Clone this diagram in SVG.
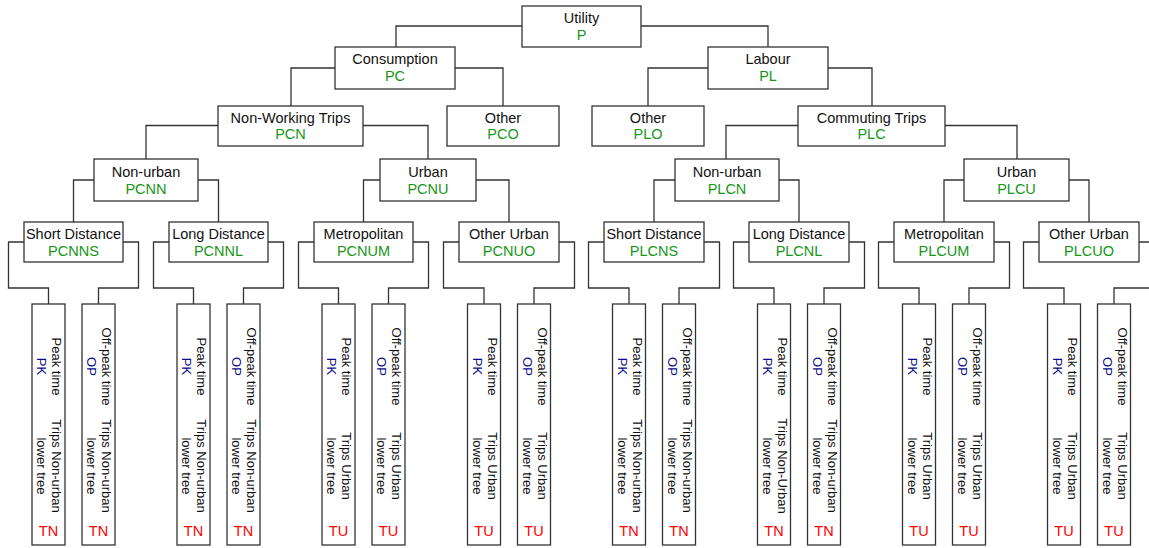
<svg xmlns="http://www.w3.org/2000/svg" width="1149" height="548" viewBox="0 0 1149 548">
<style>
.bx{fill:#fff;stroke:#333;stroke-width:1.3}
.ln{fill:none;stroke:#333;stroke-width:1.3}
text{font-family:"Liberation Sans",Arial,sans-serif;fill:#111}
.t{font-size:14.5px;text-anchor:middle}
.g{fill:#169616}
.l{font-size:13px;text-anchor:middle}
.b{fill:#0a0a8c}
.r{font-size:14.5px;text-anchor:middle;fill:#ff0000}
</style>
<rect width="1149" height="548" fill="#fff"/>
<g id="connectors">
<path class="ln" d="M522,26H396V47M641,26H768V47"/>
<path class="ln" d="M335,68H291V106M455,68H503V106"/>
<path class="ln" d="M708,68H648V106M828,68H872V106"/>
<path class="ln" d="M218,125.5H146V159M363,125.5H428V159"/>
<path class="ln" d="M798,125.5H726V159M945,125.5H1017V159"/>
<path class="ln" d="M94,180H73.5V222M198,180H218.5V222"/>
<path class="ln" d="M380,180H363.5V222M476,180H509V222"/>
<path class="ln" d="M675,180H654V222M779,180H799V222"/>
<path class="ln" d="M964,180H944V222M1069,180H1089V222"/>
<path class="ln" d="M24,242H8.5V288H48.5V304M123,242H138.5V288H98.5V304"/>
<path class="ln" d="M169,242H153.5V288H193.5V304M268,242H283.5V288H243.5V304"/>
<path class="ln" d="M314,242H298.5V288H338.5V304M413,242H428.5V288H388.5V304"/>
<path class="ln" d="M459,242H443.5V288H484V304M559,242H574.5V288H534V304"/>
<path class="ln" d="M604,242H588.5V288H629V304M704,242H719.5V288H679V304"/>
<path class="ln" d="M749,242H733.5V288H774V304M849,242H864.5V288H824V304"/>
<path class="ln" d="M894,242H878.5V288H919V304M994,242H1009.5V288H969V304"/>
<path class="ln" d="M1039,242H1023.5V288H1064V304M1139,242H1154.5V288H1114V304"/>
</g>
<g id="P"><rect class="bx" x="522" y="6" width="119" height="41"/><text class="t" x="581.5" y="23">Utility</text><text class="t g" x="581.5" y="40">P</text></g>
<g id="PC"><rect class="bx" x="335" y="47" width="120" height="42"/><text class="t" x="395" y="64">Consumption</text><text class="t g" x="395" y="81">PC</text></g>
<g id="PL"><rect class="bx" x="708" y="47" width="120" height="42"/><text class="t" x="768" y="64">Labour</text><text class="t g" x="768" y="81">PL</text></g>
<g id="PCN"><rect class="bx" x="218" y="106" width="145" height="40"/><text class="t" x="290.5" y="122.5">Non-Working Trips</text><text class="t g" x="290.5" y="139">PCN</text></g>
<g id="PCO"><rect class="bx" x="447" y="106" width="112" height="40"/><text class="t" x="503" y="122.5">Other</text><text class="t g" x="503" y="139">PCO</text></g>
<g id="PLO"><rect class="bx" x="592" y="106" width="112" height="40"/><text class="t" x="648" y="122.5">Other</text><text class="t g" x="648" y="139">PLO</text></g>
<g id="PLC"><rect class="bx" x="798" y="106" width="147" height="40"/><text class="t" x="871.5" y="122.5">Commuting Trips</text><text class="t g" x="871.5" y="139">PLC</text></g>
<g id="PCNN"><rect class="bx" x="94" y="159" width="104" height="42"/><text class="t" x="146" y="176.5">Non-urban</text><text class="t g" x="146" y="193.5">PCNN</text></g>
<g id="PCNU"><rect class="bx" x="380" y="159" width="96" height="42"/><text class="t" x="428" y="176.5">Urban</text><text class="t g" x="428" y="193.5">PCNU</text></g>
<g id="PLCN"><rect class="bx" x="675" y="159" width="104" height="42"/><text class="t" x="727" y="176.5">Non-urban</text><text class="t g" x="727" y="193.5">PLCN</text></g>
<g id="PLCU"><rect class="bx" x="964" y="159" width="105" height="42"/><text class="t" x="1016.5" y="176.5">Urban</text><text class="t g" x="1016.5" y="193.5">PLCU</text></g>
<g id="PCNNS"><rect class="bx" x="24" y="222" width="99" height="40"/><text class="t" x="73.5" y="238.5">Short Distance</text><text class="t g" x="73.5" y="256">PCNNS</text></g>
<g id="PCNNL"><rect class="bx" x="169" y="222" width="99" height="40"/><text class="t" x="218.5" y="238.5">Long Distance</text><text class="t g" x="218.5" y="256">PCNNL</text></g>
<g id="PCNUM"><rect class="bx" x="314" y="222" width="99" height="40"/><text class="t" x="363.5" y="238.5">Metropolitan</text><text class="t g" x="363.5" y="256">PCNUM</text></g>
<g id="PCNUO"><rect class="bx" x="459" y="222" width="100" height="40"/><text class="t" x="509" y="238.5">Other Urban</text><text class="t g" x="509" y="256">PCNUO</text></g>
<g id="PLCNS"><rect class="bx" x="604" y="222" width="100" height="40"/><text class="t" x="654" y="238.5">Short Distance</text><text class="t g" x="654" y="256">PLCNS</text></g>
<g id="PLCNL"><rect class="bx" x="749" y="222" width="100" height="40"/><text class="t" x="799" y="238.5">Long Distance</text><text class="t g" x="799" y="256">PLCNL</text></g>
<g id="PLCUM"><rect class="bx" x="894" y="222" width="100" height="40"/><text class="t" x="944" y="238.5">Metropolitan</text><text class="t g" x="944" y="256">PLCUM</text></g>
<g id="PLCUO"><rect class="bx" x="1039" y="222" width="100" height="40"/><text class="t" x="1089" y="238.5">Other Urban</text><text class="t g" x="1089" y="256">PLCUO</text></g>

<g id="PCNNS-PK"><rect class="bx" x="32" y="304" width="33" height="241"/><text class="l" transform="translate(48.5,366.5) rotate(90)"><tspan x="0" y="-3.8">Peak time</tspan><tspan class="b" x="0" y="11.5">PK</tspan></text><text class="l" transform="translate(48.5,466) rotate(90)"><tspan x="0" y="-3.8">Trips Non-urban</tspan><tspan x="0" y="11.5">lower tree</tspan></text><text class="r" x="48.5" y="535.5">TN</text></g>
<g id="PCNNS-OP"><rect class="bx" x="82" y="304" width="33" height="241"/><text class="l" transform="translate(98.5,366.5) rotate(90)"><tspan x="0" y="-3.8">Off-peak time</tspan><tspan class="b" x="0" y="11.5">OP</tspan></text><text class="l" transform="translate(98.5,466) rotate(90)"><tspan x="0" y="-3.8">Trips Non-urban</tspan><tspan x="0" y="11.5">lower tree</tspan></text><text class="r" x="98.5" y="535.5">TN</text></g>
<g id="PCNNL-PK"><rect class="bx" x="177" y="304" width="33" height="241"/><text class="l" transform="translate(193.5,366.5) rotate(90)"><tspan x="0" y="-3.8">Peak time</tspan><tspan class="b" x="0" y="11.5">PK</tspan></text><text class="l" transform="translate(193.5,466) rotate(90)"><tspan x="0" y="-3.8">Trips Non-urban</tspan><tspan x="0" y="11.5">lower tree</tspan></text><text class="r" x="193.5" y="535.5">TN</text></g>
<g id="PCNNL-OP"><rect class="bx" x="227" y="304" width="33" height="241"/><text class="l" transform="translate(243.5,366.5) rotate(90)"><tspan x="0" y="-3.8">Off-peak time</tspan><tspan class="b" x="0" y="11.5">OP</tspan></text><text class="l" transform="translate(243.5,466) rotate(90)"><tspan x="0" y="-3.8">Trips Non-urban</tspan><tspan x="0" y="11.5">lower tree</tspan></text><text class="r" x="243.5" y="535.5">TN</text></g>
<g id="PCNUM-PK"><rect class="bx" x="322" y="304" width="33" height="241"/><text class="l" transform="translate(338.5,366.5) rotate(90)"><tspan x="0" y="-3.8">Peak time</tspan><tspan class="b" x="0" y="11.5">PK</tspan></text><text class="l" transform="translate(338.5,466) rotate(90)"><tspan x="0" y="-3.8">Trips Urban</tspan><tspan x="0" y="11.5">lower tree</tspan></text><text class="r" x="338.5" y="535.5">TU</text></g>
<g id="PCNUM-OP"><rect class="bx" x="372" y="304" width="33" height="241"/><text class="l" transform="translate(388.5,366.5) rotate(90)"><tspan x="0" y="-3.8">Off-peak time</tspan><tspan class="b" x="0" y="11.5">OP</tspan></text><text class="l" transform="translate(388.5,466) rotate(90)"><tspan x="0" y="-3.8">Trips Urban</tspan><tspan x="0" y="11.5">lower tree</tspan></text><text class="r" x="388.5" y="535.5">TU</text></g>
<g id="PCNUO-PK"><rect class="bx" x="467.5" y="304" width="33" height="241"/><text class="l" transform="translate(484,366.5) rotate(90)"><tspan x="0" y="-3.8">Peak time</tspan><tspan class="b" x="0" y="11.5">PK</tspan></text><text class="l" transform="translate(484,466) rotate(90)"><tspan x="0" y="-3.8">Trips Urban</tspan><tspan x="0" y="11.5">lower tree</tspan></text><text class="r" x="484" y="535.5">TU</text></g>
<g id="PCNUO-OP"><rect class="bx" x="517.5" y="304" width="33" height="241"/><text class="l" transform="translate(534,366.5) rotate(90)"><tspan x="0" y="-3.8">Off-peak time</tspan><tspan class="b" x="0" y="11.5">OP</tspan></text><text class="l" transform="translate(534,466) rotate(90)"><tspan x="0" y="-3.8">Trips Urban</tspan><tspan x="0" y="11.5">lower tree</tspan></text><text class="r" x="534" y="535.5">TU</text></g>
<g id="PLCNS-PK"><rect class="bx" x="612.5" y="304" width="33" height="241"/><text class="l" transform="translate(629,366.5) rotate(90)"><tspan x="0" y="-3.8">Peak time</tspan><tspan class="b" x="0" y="11.5">PK</tspan></text><text class="l" transform="translate(629,466) rotate(90)"><tspan x="0" y="-3.8">Trips Non-urban</tspan><tspan x="0" y="11.5">lower tree</tspan></text><text class="r" x="629" y="535.5">TN</text></g>
<g id="PLCNS-OP"><rect class="bx" x="662.5" y="304" width="33" height="241"/><text class="l" transform="translate(679,366.5) rotate(90)"><tspan x="0" y="-3.8">Off-peak time</tspan><tspan class="b" x="0" y="11.5">OP</tspan></text><text class="l" transform="translate(679,466) rotate(90)"><tspan x="0" y="-3.8">Trips Non-urban</tspan><tspan x="0" y="11.5">lower tree</tspan></text><text class="r" x="679" y="535.5">TN</text></g>
<g id="PLCNL-PK"><rect class="bx" x="757.5" y="304" width="33" height="241"/><text class="l" transform="translate(774,366.5) rotate(90)"><tspan x="0" y="-3.8">Peak time</tspan><tspan class="b" x="0" y="11.5">PK</tspan></text><text class="l" transform="translate(774,466) rotate(90)"><tspan x="0" y="-3.8">Trips Non-Urban</tspan><tspan x="0" y="11.5">lower tree</tspan></text><text class="r" x="774" y="535.5">TN</text></g>
<g id="PLCNL-OP"><rect class="bx" x="807.5" y="304" width="33" height="241"/><text class="l" transform="translate(824,366.5) rotate(90)"><tspan x="0" y="-3.8">Off-peak time</tspan><tspan class="b" x="0" y="11.5">OP</tspan></text><text class="l" transform="translate(824,466) rotate(90)"><tspan x="0" y="-3.8">Trips Non-urban</tspan><tspan x="0" y="11.5">lower tree</tspan></text><text class="r" x="824" y="535.5">TN</text></g>
<g id="PLCUM-PK"><rect class="bx" x="902.5" y="304" width="33" height="241"/><text class="l" transform="translate(919,366.5) rotate(90)"><tspan x="0" y="-3.8">Peak time</tspan><tspan class="b" x="0" y="11.5">PK</tspan></text><text class="l" transform="translate(919,466) rotate(90)"><tspan x="0" y="-3.8">Trips Urban</tspan><tspan x="0" y="11.5">lower tree</tspan></text><text class="r" x="919" y="535.5">TU</text></g>
<g id="PLCUM-OP"><rect class="bx" x="952.5" y="304" width="33" height="241"/><text class="l" transform="translate(969,366.5) rotate(90)"><tspan x="0" y="-3.8">Off-peak time</tspan><tspan class="b" x="0" y="11.5">OP</tspan></text><text class="l" transform="translate(969,466) rotate(90)"><tspan x="0" y="-3.8">Trips Urban</tspan><tspan x="0" y="11.5">lower tree</tspan></text><text class="r" x="969" y="535.5">TU</text></g>
<g id="PLCUO-PK"><rect class="bx" x="1047.5" y="304" width="33" height="241"/><text class="l" transform="translate(1064,366.5) rotate(90)"><tspan x="0" y="-3.8">Peak time</tspan><tspan class="b" x="0" y="11.5">PK</tspan></text><text class="l" transform="translate(1064,466) rotate(90)"><tspan x="0" y="-3.8">Trips Urban</tspan><tspan x="0" y="11.5">lower tree</tspan></text><text class="r" x="1064" y="535.5">TU</text></g>
<g id="PLCUO-OP"><rect class="bx" x="1097.5" y="304" width="33" height="241"/><text class="l" transform="translate(1114,366.5) rotate(90)"><tspan x="0" y="-3.8">Off-peak time</tspan><tspan class="b" x="0" y="11.5">OP</tspan></text><text class="l" transform="translate(1114,466) rotate(90)"><tspan x="0" y="-3.8">Trips Urban</tspan><tspan x="0" y="11.5">lower tree</tspan></text><text class="r" x="1114" y="535.5">TU</text></g>
</svg>
